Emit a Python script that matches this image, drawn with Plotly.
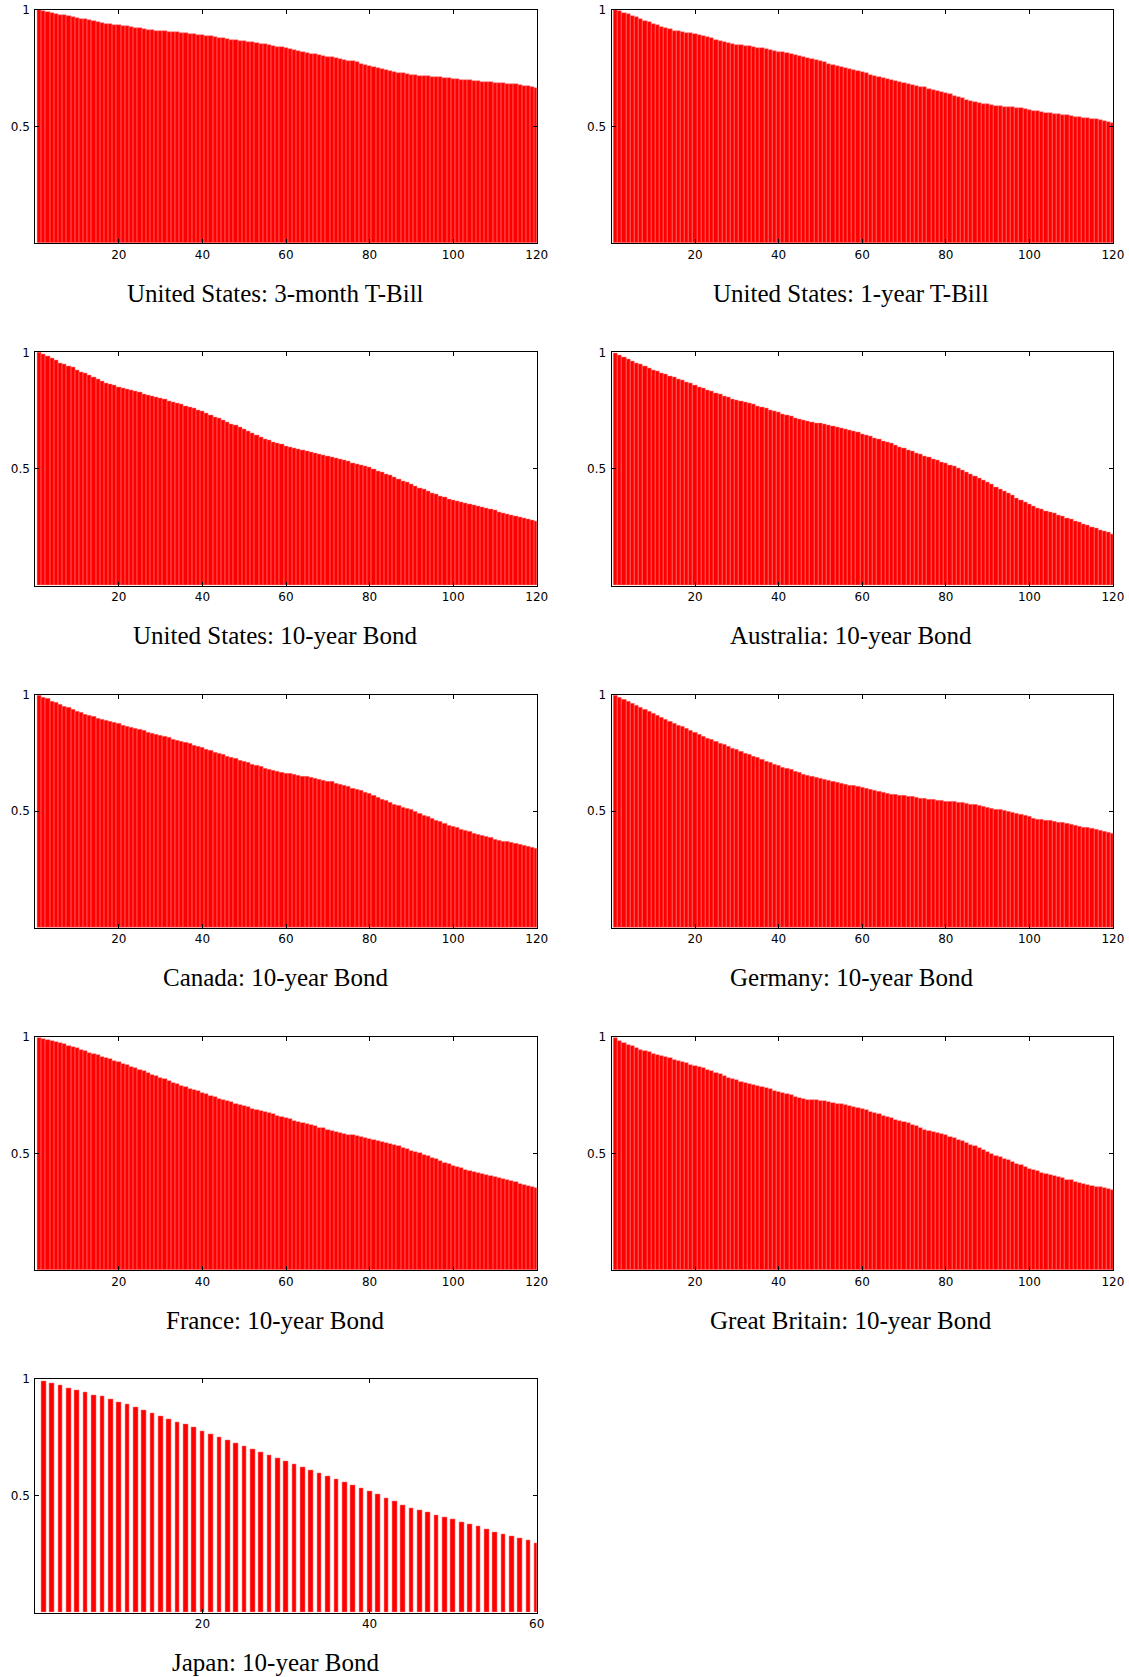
import plotly.graph_objects as go

# Horizon (months) for the long-rate panels and for Japan
months_120 = list(range(1, 121))
months_60 = list(range(1, 61))

us_3m_tbill = [
    1.000, 0.996, 0.991, 0.987, 0.984, 0.980, 0.977, 0.973, 0.970, 0.967,
    0.963, 0.960, 0.956, 0.952, 0.948, 0.945, 0.942, 0.940, 0.937, 0.935,
    0.932, 0.930, 0.927, 0.924, 0.921, 0.918, 0.916, 0.914, 0.912, 0.910,
    0.909, 0.907, 0.906, 0.904, 0.902, 0.901, 0.899, 0.897, 0.895, 0.893,
    0.890, 0.887, 0.884, 0.882, 0.879, 0.876, 0.873, 0.871, 0.868, 0.866,
    0.863, 0.861, 0.858, 0.855, 0.853, 0.850, 0.847, 0.843, 0.840, 0.836,
    0.832, 0.828, 0.823, 0.819, 0.816, 0.813, 0.810, 0.807, 0.804, 0.800,
    0.797, 0.793, 0.790, 0.787, 0.783, 0.780, 0.775, 0.770, 0.765, 0.760,
    0.755, 0.750, 0.746, 0.742, 0.738, 0.735, 0.732, 0.729, 0.726, 0.723,
    0.721, 0.719, 0.717, 0.716, 0.714, 0.712, 0.711, 0.709, 0.707, 0.705,
    0.704, 0.702, 0.700, 0.699, 0.697, 0.695, 0.693, 0.692, 0.690, 0.689,
    0.687, 0.686, 0.684, 0.683, 0.681, 0.679, 0.676, 0.673, 0.669, 0.664,
]

us_1y_tbill = [
    1.000, 0.994, 0.988, 0.982, 0.975, 0.968, 0.962, 0.955, 0.948, 0.941,
    0.934, 0.928, 0.922, 0.917, 0.912, 0.908, 0.905, 0.903, 0.900, 0.898,
    0.893, 0.888, 0.883, 0.878, 0.873, 0.868, 0.863, 0.858, 0.855, 0.852,
    0.850, 0.847, 0.845, 0.842, 0.839, 0.836, 0.833, 0.830, 0.826, 0.822,
    0.818, 0.814, 0.810, 0.806, 0.802, 0.798, 0.794, 0.789, 0.785, 0.780,
    0.775, 0.770, 0.765, 0.760, 0.756, 0.752, 0.748, 0.743, 0.738, 0.733,
    0.728, 0.722, 0.717, 0.713, 0.709, 0.704, 0.700, 0.696, 0.692, 0.688,
    0.684, 0.680, 0.676, 0.672, 0.668, 0.663, 0.658, 0.654, 0.649, 0.644,
    0.638, 0.632, 0.627, 0.621, 0.616, 0.611, 0.606, 0.602, 0.598, 0.595,
    0.593, 0.590, 0.588, 0.586, 0.585, 0.583, 0.581, 0.578, 0.575, 0.572,
    0.569, 0.566, 0.563, 0.560, 0.558, 0.555, 0.553, 0.550, 0.548, 0.546,
    0.543, 0.541, 0.538, 0.536, 0.534, 0.531, 0.528, 0.525, 0.521, 0.517,
]

us_10y_bond = [
    0.998, 0.992, 0.983, 0.974, 0.964, 0.955, 0.948, 0.941, 0.934, 0.925,
    0.916, 0.908, 0.900, 0.892, 0.884, 0.877, 0.869, 0.863, 0.857, 0.851,
    0.846, 0.842, 0.838, 0.833, 0.828, 0.822, 0.816, 0.811, 0.806, 0.801,
    0.797, 0.792, 0.787, 0.781, 0.776, 0.770, 0.765, 0.759, 0.752, 0.745,
    0.737, 0.730, 0.722, 0.715, 0.708, 0.700, 0.693, 0.686, 0.678, 0.669,
    0.661, 0.652, 0.644, 0.636, 0.629, 0.623, 0.616, 0.610, 0.604, 0.599,
    0.593, 0.588, 0.583, 0.578, 0.574, 0.570, 0.567, 0.563, 0.559, 0.555,
    0.551, 0.547, 0.542, 0.536, 0.531, 0.526, 0.521, 0.516, 0.511, 0.505,
    0.498, 0.492, 0.485, 0.478, 0.471, 0.464, 0.457, 0.449, 0.441, 0.433,
    0.425, 0.418, 0.411, 0.404, 0.397, 0.390, 0.384, 0.378, 0.372, 0.366,
    0.361, 0.356, 0.351, 0.348, 0.344, 0.341, 0.337, 0.332, 0.327, 0.322,
    0.316, 0.311, 0.305, 0.300, 0.296, 0.292, 0.288, 0.284, 0.279, 0.275,
]

australia_10y_bond = [
    0.996, 0.987, 0.978, 0.970, 0.963, 0.955, 0.947, 0.940, 0.932, 0.925,
    0.918, 0.911, 0.904, 0.897, 0.891, 0.884, 0.878, 0.872, 0.866, 0.859,
    0.852, 0.845, 0.838, 0.832, 0.826, 0.819, 0.812, 0.806, 0.800, 0.795,
    0.790, 0.785, 0.780, 0.775, 0.770, 0.764, 0.759, 0.753, 0.747, 0.742,
    0.736, 0.730, 0.724, 0.718, 0.712, 0.707, 0.704, 0.700, 0.697, 0.694,
    0.690, 0.686, 0.681, 0.677, 0.673, 0.669, 0.665, 0.660, 0.655, 0.650,
    0.644, 0.638, 0.632, 0.626, 0.620, 0.614, 0.608, 0.601, 0.594, 0.588,
    0.581, 0.575, 0.568, 0.561, 0.554, 0.548, 0.542, 0.536, 0.530, 0.524,
    0.517, 0.510, 0.502, 0.495, 0.487, 0.479, 0.470, 0.462, 0.453, 0.443,
    0.433, 0.423, 0.413, 0.404, 0.394, 0.385, 0.376, 0.367, 0.358, 0.349,
    0.340, 0.333, 0.327, 0.320, 0.314, 0.308, 0.301, 0.295, 0.289, 0.283,
    0.276, 0.270, 0.263, 0.257, 0.251, 0.245, 0.239, 0.233, 0.227, 0.221,
]

canada_10y_bond = [
    0.996, 0.989, 0.981, 0.972, 0.964, 0.957, 0.950, 0.943, 0.936, 0.929,
    0.922, 0.915, 0.909, 0.904, 0.899, 0.894, 0.889, 0.884, 0.879, 0.874,
    0.869, 0.864, 0.859, 0.854, 0.849, 0.844, 0.839, 0.834, 0.829, 0.824,
    0.819, 0.814, 0.809, 0.804, 0.799, 0.794, 0.788, 0.783, 0.777, 0.771,
    0.764, 0.758, 0.752, 0.746, 0.741, 0.736, 0.731, 0.725, 0.719, 0.713,
    0.707, 0.701, 0.696, 0.690, 0.684, 0.679, 0.675, 0.671, 0.667, 0.663,
    0.660, 0.656, 0.653, 0.650, 0.647, 0.644, 0.641, 0.637, 0.633, 0.629,
    0.625, 0.620, 0.615, 0.610, 0.604, 0.599, 0.593, 0.587, 0.581, 0.575,
    0.568, 0.560, 0.552, 0.544, 0.536, 0.529, 0.523, 0.517, 0.511, 0.505,
    0.498, 0.490, 0.483, 0.476, 0.469, 0.461, 0.454, 0.447, 0.440, 0.434,
    0.428, 0.422, 0.416, 0.411, 0.406, 0.401, 0.396, 0.391, 0.385, 0.380,
    0.375, 0.371, 0.368, 0.364, 0.361, 0.358, 0.354, 0.350, 0.346, 0.342,
]

germany_10y_bond = [
    0.996, 0.987, 0.978, 0.970, 0.961, 0.953, 0.946, 0.937, 0.928, 0.919,
    0.910, 0.901, 0.893, 0.885, 0.877, 0.869, 0.861, 0.853, 0.845, 0.838,
    0.830, 0.821, 0.813, 0.805, 0.798, 0.791, 0.784, 0.777, 0.770, 0.763,
    0.756, 0.749, 0.742, 0.735, 0.728, 0.721, 0.714, 0.708, 0.702, 0.695,
    0.689, 0.683, 0.677, 0.670, 0.664, 0.658, 0.653, 0.648, 0.643, 0.639,
    0.635, 0.631, 0.627, 0.623, 0.619, 0.616, 0.612, 0.609, 0.605, 0.601,
    0.597, 0.593, 0.589, 0.585, 0.581, 0.577, 0.573, 0.570, 0.567, 0.565,
    0.563, 0.561, 0.559, 0.556, 0.553, 0.551, 0.549, 0.547, 0.545, 0.543,
    0.541, 0.540, 0.538, 0.536, 0.533, 0.530, 0.527, 0.523, 0.520, 0.516,
    0.513, 0.509, 0.506, 0.502, 0.498, 0.494, 0.490, 0.485, 0.480, 0.475,
    0.470, 0.466, 0.463, 0.460, 0.458, 0.456, 0.453, 0.450, 0.447, 0.444,
    0.440, 0.436, 0.432, 0.428, 0.424, 0.420, 0.416, 0.412, 0.408, 0.404,
]

france_10y_bond = [
    0.996, 0.993, 0.989, 0.983, 0.978, 0.973, 0.968, 0.963, 0.957, 0.951,
    0.945, 0.939, 0.933, 0.927, 0.921, 0.915, 0.910, 0.904, 0.898, 0.892,
    0.886, 0.880, 0.873, 0.867, 0.860, 0.853, 0.846, 0.839, 0.832, 0.825,
    0.818, 0.811, 0.804, 0.797, 0.791, 0.785, 0.779, 0.773, 0.767, 0.760,
    0.754, 0.748, 0.742, 0.736, 0.731, 0.725, 0.720, 0.714, 0.708, 0.703,
    0.698, 0.693, 0.688, 0.683, 0.678, 0.673, 0.668, 0.663, 0.658, 0.653,
    0.647, 0.641, 0.635, 0.630, 0.625, 0.621, 0.617, 0.612, 0.608, 0.603,
    0.599, 0.594, 0.590, 0.586, 0.582, 0.578, 0.574, 0.570, 0.566, 0.562,
    0.558, 0.554, 0.550, 0.546, 0.541, 0.536, 0.531, 0.525, 0.519, 0.513,
    0.507, 0.501, 0.495, 0.489, 0.482, 0.476, 0.469, 0.462, 0.456, 0.449,
    0.443, 0.437, 0.432, 0.427, 0.423, 0.418, 0.414, 0.410, 0.405, 0.401,
    0.397, 0.392, 0.387, 0.382, 0.377, 0.372, 0.367, 0.362, 0.357, 0.353,
]

britain_10y_bond = [
    0.996, 0.985, 0.975, 0.967, 0.960, 0.953, 0.946, 0.940, 0.934, 0.928,
    0.923, 0.918, 0.913, 0.908, 0.903, 0.898, 0.893, 0.887, 0.882, 0.876,
    0.871, 0.866, 0.860, 0.854, 0.847, 0.840, 0.833, 0.826, 0.820, 0.814,
    0.808, 0.803, 0.798, 0.794, 0.789, 0.784, 0.780, 0.775, 0.770, 0.765,
    0.760, 0.755, 0.750, 0.744, 0.739, 0.735, 0.732, 0.730, 0.728, 0.727,
    0.724, 0.721, 0.717, 0.714, 0.711, 0.708, 0.704, 0.700, 0.695, 0.690,
    0.685, 0.679, 0.674, 0.669, 0.663, 0.657, 0.651, 0.646, 0.641, 0.636,
    0.630, 0.624, 0.617, 0.610, 0.603, 0.598, 0.593, 0.588, 0.583, 0.578,
    0.572, 0.566, 0.560, 0.554, 0.547, 0.539, 0.531, 0.524, 0.516, 0.508,
    0.500, 0.492, 0.485, 0.478, 0.471, 0.464, 0.457, 0.450, 0.442, 0.435,
    0.429, 0.424, 0.419, 0.414, 0.409, 0.404, 0.399, 0.394, 0.389, 0.385,
    0.380, 0.375, 0.370, 0.365, 0.361, 0.358, 0.355, 0.352, 0.349, 0.346,
]

japan_10y_bond = [
    0.993, 0.983, 0.973, 0.961, 0.951, 0.943, 0.933, 0.926, 0.914, 0.903,
    0.894, 0.880, 0.869, 0.856, 0.843, 0.830, 0.817, 0.806, 0.793, 0.777,
    0.764, 0.752, 0.738, 0.726, 0.712, 0.700, 0.686, 0.674, 0.660, 0.648,
    0.634, 0.622, 0.609, 0.596, 0.583, 0.570, 0.557, 0.545, 0.531, 0.518,
    0.505, 0.492, 0.478, 0.462, 0.449, 0.439, 0.428, 0.419, 0.409, 0.398,
    0.388, 0.380, 0.368, 0.358, 0.346, 0.337, 0.326, 0.318, 0.308, 0.297,
]

panel_titles = [
    "United States: 3-month T-Bill",
    "United States: 1-year T-Bill",
    "United States: 10-year Bond",
    "Australia: 10-year Bond",
    "Canada: 10-year Bond",
    "Germany: 10-year Bond",
    "France: 10-year Bond",
    "Great Britain: 10-year Bond",
    "Japan: 10-year Bond",
]
panel_series = [
    us_3m_tbill, us_1y_tbill, us_10y_bond, australia_10y_bond,
    canada_10y_bond, germany_10y_bond, france_10y_bond, britain_10y_bond,
    japan_10y_bond,
]
ticks_120 = [20, 40, 60, 80, 100, 120]
ticks_60 = [20, 40, 60]
y_ticks = [0.5, 1]

# Page geometry (pixels)
W, H = 1129, 1677
col_left = [35.3, 611.5]
plot_w = 501.4
row_top0, row_step, plot_h = 10.0, 342.3, 233.3
title_x = [275.0, 851.0]
title_gap = 50.0

fig = go.Figure()
axis_font = dict(family="DejaVu Sans", size=12, color="black")

for k, (title, values) in enumerate(zip(panel_titles, panel_series)):
    row, col = divmod(k, 2)
    n = len(values)
    months = months_60 if n == 60 else months_120
    xticks = ticks_60 if n == 60 else ticks_120
    sfx = "" if k == 0 else str(k + 1)

    fig.add_trace(go.Bar(
        x=months, y=values,
        xaxis="x" + sfx, yaxis="y" + sfx,
        marker=dict(color="#ff0000", line=dict(width=0.5, color="#ff8080")),
        width=0.56 if n == 60 else 1.0,
        showlegend=False,
        hoverinfo="x+y",
    ))

    left = col_left[col]
    top = row_top0 + row * row_step
    x_dom = [left / W, (left + plot_w) / W]
    y_dom = [1 - (top + plot_h) / H, 1 - top / H]

    common = dict(
        showline=True, linecolor="black", linewidth=1, mirror="allticks",
        ticks="inside", ticklen=4, tickwidth=1, tickcolor="black",
        showgrid=False, zeroline=False, tickfont=axis_font, fixedrange=True,
        automargin=False,
    )
    fig.layout["xaxis" + sfx] = dict(
        domain=x_dom, range=[0, n], tickmode="array", tickvals=xticks,
        anchor="y" + sfx, **common,
    )
    fig.layout["yaxis" + sfx] = dict(
        domain=y_dom, range=[0, 1], tickmode="array", tickvals=y_ticks,
        ticktext=["0.5", "1"], anchor="x" + sfx, ticklabelstandoff=2,
        **common,
    )

    fig.add_annotation(
        text=title, xref="paper", yref="paper",
        x=title_x[col] / W, y=1 - (top + plot_h + title_gap) / H,
        xanchor="center", yanchor="middle", showarrow=False,
        font=dict(family="Liberation Serif", size=25, color="black"),
    )

fig.update_layout(
    width=W, height=H,
    margin=dict(l=0, r=0, t=0, b=0, autoexpand=False),
    paper_bgcolor="white", plot_bgcolor="white",
    bargap=0,
)

fig.write_html("out.html")
